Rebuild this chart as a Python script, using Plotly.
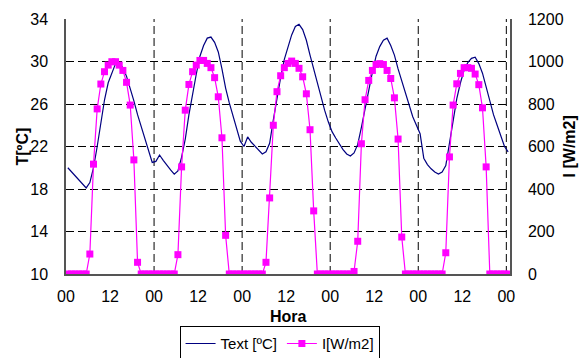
import plotly.graph_objects as go

hours = list(range(121))

tick_positions = [0, 12, 24, 36, 48, 60, 72, 84, 96, 108, 120]
tick_labels = ["00", "12", "00", "12", "00", "12", "00", "12", "00", "12", "00"]

text_temp = [
    20.0, 19.6, 19.2, 18.8, 18.4, 18.1, 18.6, 20.0, 22.0, 24.2, 26.4, 28.0,
    29.0, 29.8, 29.9, 29.4, 28.6, 27.5, 26.3, 25.0, 23.9, 22.8, 21.7, 20.5,
    20.6, 21.2, 20.7, 20.2, 19.8, 19.4, 19.7, 21.0, 22.7, 25.0, 27.0, 28.8,
    30.5, 31.5, 32.2, 32.3, 31.8, 30.9, 29.3, 27.5, 26.1, 24.9, 23.8, 22.5,
    22.0, 22.9, 22.4, 22.0, 21.6, 21.3, 21.5, 22.3, 24.5, 26.6, 28.5, 30.2,
    31.4, 32.5, 33.3, 33.5, 33.0, 32.0, 30.6, 29.3, 28.0, 26.6, 25.4, 24.3,
    23.4, 22.8, 22.2, 21.7, 21.3, 21.1, 21.4, 22.2, 23.8, 25.6, 27.3, 29.0,
    30.5, 31.4, 32.0, 32.2, 31.5, 30.6, 29.3, 28.2, 27.0, 25.8, 24.8, 24.0,
    23.2, 20.9, 20.3, 19.9, 19.6, 19.4, 19.6, 20.2, 22.3, 24.6, 26.5, 28.0,
    29.2, 29.9, 30.3, 30.4, 29.8, 28.9, 27.6, 26.2, 25.0, 24.0, 23.0, 22.0,
    21.5,
]

irradiance = [
    0, 0, 0, 0, 0, 0, 94, 517, 777, 894, 952, 983,
    999, 999, 983, 958, 902, 795, 537, 55, 0, 0, 0, 0,
    0, 0, 0, 0, 0, 0, 91, 504, 771, 892, 952, 983,
    1005, 1005, 991, 971, 924, 834, 641, 182, 0, 0, 0, 0,
    0, 0, 0, 0, 0, 0, 55, 358, 700, 858, 933, 971,
    991, 1002, 991, 968, 928, 848, 679, 297, 0, 0, 0, 0,
    0, 0, 0, 0, 0, 0, 12, 154, 613, 820, 911, 958,
    986, 990, 986, 958, 920, 829, 635, 174, 0, 0, 0, 0,
    0, 0, 0, 0, 0, 0, 0, 100, 551, 795, 895, 944,
    971, 971, 968, 941, 891, 782, 504, 0, 0, 0, 0, 0,
    0,
]

# category centres (Excel-style category axis: each hour sits mid-slot)
xpos = [h + 0.5 for h in hours]

FONT = "Liberation Sans, Arial, sans-serif"
AXIS_COLOR = "#555555"

fig = go.Figure()
fig.add_trace(go.Scatter(
    x=xpos, y=text_temp, name="Text [ºC]", mode="lines",
    line=dict(color="#000080", width=1.2),
))
fig.add_trace(go.Scatter(
    x=xpos, y=irradiance, name="I[W/m2]", mode="lines+markers", yaxis="y2",
    line=dict(color="#FF00FF", width=1.2),
    marker=dict(symbol="square", size=7, color="#FF00FF"),
))

shapes = []
for d in range(1, 6):
    shapes.append(dict(type="line", xref="x", yref="paper", x0=24 * d, x1=24 * d,
                       y0=0, y1=1, line=dict(color="black", width=1, dash="8px,4px"),
                       layer="below"))

fig.update_layout(
    width=579, height=358,
    margin=dict(l=66, r=69, t=19, b=84, autoexpand=False),
    paper_bgcolor="white", plot_bgcolor="white",
    font=dict(family=FONT, size=16, color="black"),
    shapes=shapes,
    xaxis=dict(
        range=[0, 121], tickmode="array", tickvals=tick_positions, ticktext=tick_labels,
        showgrid=False, zeroline=False, showline=True, linecolor=AXIS_COLOR, linewidth=1.5,
        ticks="", ticklabelstandoff=7, tickfont=dict(size=16),
    ),
    yaxis=dict(
        range=[10, 34], tickmode="linear", tick0=10, dtick=4,
        showgrid=True, gridcolor="black", gridwidth=1, griddash="8px,4px",
        zeroline=False, showline=True, linecolor=AXIS_COLOR, linewidth=1.5,
        ticks="", ticklabelstandoff=13, tickfont=dict(size=16),
    ),
    yaxis2=dict(
        range=[0, 1200], tickmode="linear", tick0=0, dtick=200, overlaying="y", side="right",
        showgrid=False, zeroline=False, showline=True, linecolor=AXIS_COLOR, linewidth=1.5,
        ticks="", ticklabelstandoff=13, tickfont=dict(size=16),
    ),
    legend=dict(
        orientation="h", x=0.481, xanchor="center", y=-0.205, yanchor="top",
        bordercolor="black", borderwidth=1, bgcolor="white",
        font=dict(size=15), itemwidth=30, tracegroupgap=0,
    ),
    annotations=[
        dict(text="<b>Hora</b>", xref="paper", yref="paper", x=0.5, y=-0.165,
             xanchor="center", yanchor="middle", showarrow=False, font=dict(size=16)),
        dict(text="<b>T[ºC]</b>", xref="paper", yref="paper", x=-0.099, y=0.5,
             xanchor="center", yanchor="middle", textangle=-90, showarrow=False,
             font=dict(size=16)),
        dict(text="<b>I [W/m2]</b>", xref="paper", yref="paper", x=1.135, y=0.5,
             xanchor="center", yanchor="middle", textangle=-90, showarrow=False,
             font=dict(size=16)),
    ],
)

fig.write_html("out.html")
